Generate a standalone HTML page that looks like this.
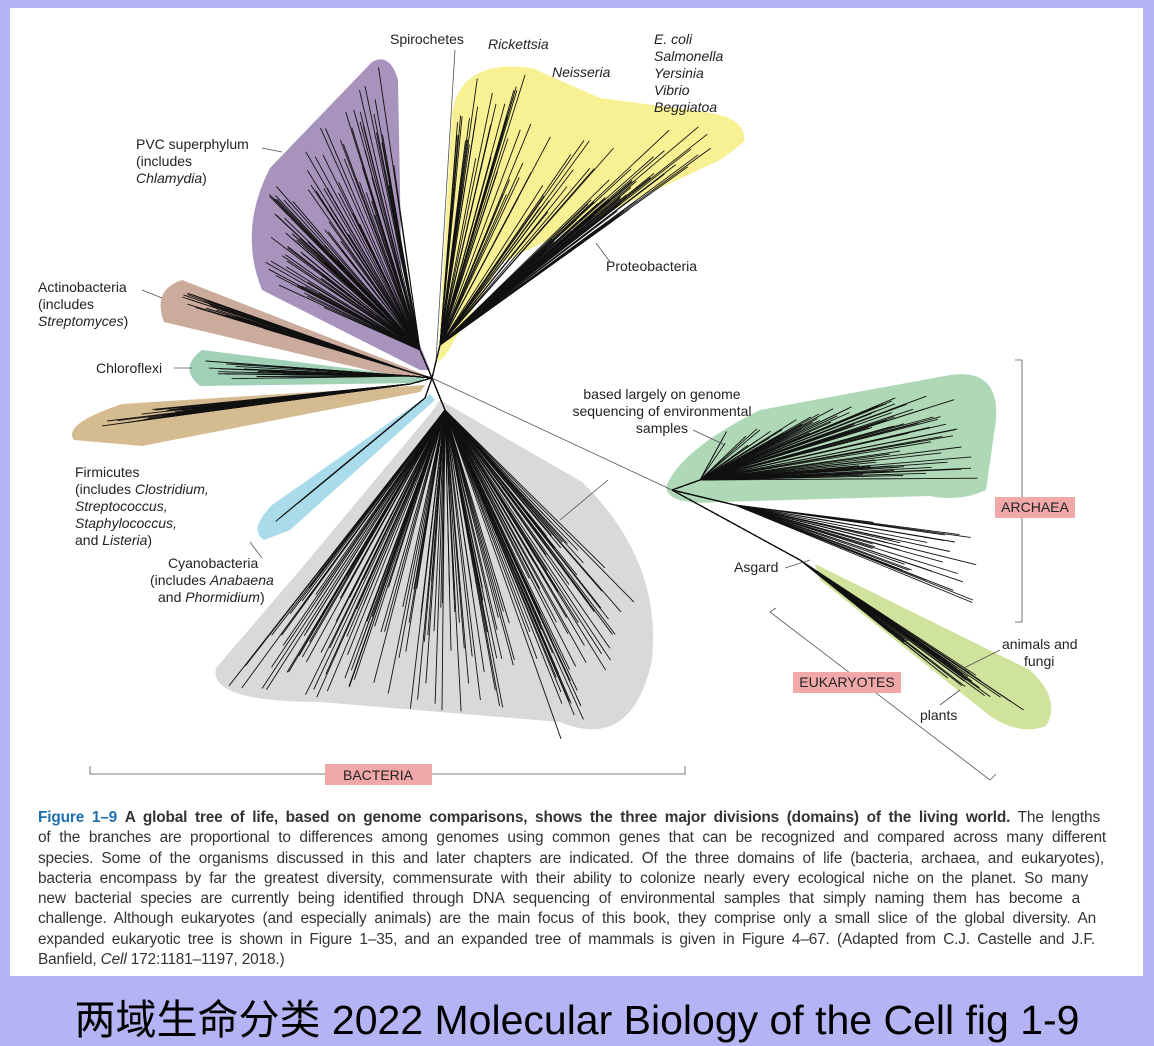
<!DOCTYPE html>
<html><head><meta charset="utf-8"><style>
html,body{margin:0;padding:0}
body{width:1154px;height:1046px;background:#b4b4f4;position:relative;overflow:hidden;font-family:"Liberation Sans",sans-serif}
#panel{position:absolute;left:10px;top:8px;width:1133px;height:968px;background:#fff}
svg{position:absolute;left:0;top:0}
.l{font-family:"Liberation Sans",sans-serif;font-size:14px;fill:#222}
.cap{position:absolute;left:38px;top:808px;font-size:15.4px;line-height:20.3px;color:#333;letter-spacing:-0.15px}
.cap div{text-align:justify;text-align-last:justify;white-space:nowrap}
.cap b.f{color:#1f6fb0}
.title{position:absolute;left:0;width:1154px;top:986px;text-align:center;font-size:41px;color:#000;font-family:"Liberation Sans","Noto Sans CJK SC",sans-serif}
</style></head><body>
<div id="panel"></div>
<svg width="1154" height="1046" id="s">
<g stroke="none">
<path d="M430,370 L402,300 L398,80 Q390,52 372,62 L270,168 Q238,230 262,290 L420,370 Z" fill="#a893bc"/>
<path d="M438,362 L452,112 Q462,58 532,68 L600,98 L705,112 Q748,118 744,142 L720,160 L502,262 L445,356 Z" fill="#f8f193"/>
<path d="M425,375 L182,280 Q152,290 164,322 L410,380 Z" fill="#cbab9b"/>
<path d="M425,378 L202,350 Q178,368 200,386 L420,383 Z" fill="#a0d1b7"/>
<path d="M425,385 L122,404 Q62,424 74,440 L142,446 L420,392 Z" fill="#d5bb90"/>
<path d="M430,394 L272,505 Q248,530 264,540 L290,530 L435,400 Z" fill="#aadbea"/>
<path d="M440,400 L582,482 Q662,560 652,660 Q632,752 560,722 L320,702 Q208,702 216,668 L300,570 L430,414 Z" fill="#d9d9d9"/>
<path d="M666,487 Q680,450 760,410 L950,375 Q1000,368 996,420 L986,490 Q960,502 930,496 L720,502 Q668,506 666,487 Z" fill="#afd8b6"/>
<path d="M815,564 L1030,670 Q1062,700 1046,726 Q1020,736 990,716 L820,580 Z" fill="#d0e39d"/>
</g>
<g id="br" stroke="#111" stroke-width="0.9" fill="none"></g>
<g stroke="#555" stroke-width="0.8" fill="none">
<line x1="432" y1="378" x2="672" y2="490"/>
<path d="M1015,360 H1022 V622 H1015"/>
<path d="M90,766 V774 H685 V766"/>
<path d="M776,608 L770,612 L990,780 L996,774"/>
<line x1="455" y1="50" x2="436" y2="360"/>
<line x1="262" y1="148" x2="282" y2="152"/>
<line x1="142" y1="290" x2="162" y2="298"/>
<line x1="174" y1="368" x2="192" y2="368"/>
<line x1="596" y1="243" x2="610" y2="262"/>
<line x1="693" y1="430" x2="725" y2="445"/>
<line x1="608" y1="480" x2="560" y2="520"/>
<line x1="785" y1="568" x2="810" y2="560"/>
<line x1="250" y1="542" x2="262" y2="558"/>
<line x1="1000" y1="650" x2="960" y2="670"/>
<line x1="940" y1="705" x2="960" y2="690"/>
</g>
<rect x="325" y="764" width="107" height="21" fill="#f0a8a8"/>
<rect x="995" y="497" width="80" height="21" fill="#f0a8a8"/>
<rect x="793" y="672" width="108" height="21" fill="#f0a8a8"/>
<text class="l" x="378" y="780" text-anchor="middle">BACTERIA</text>
<text class="l" x="1035" y="512" text-anchor="middle">ARCHAEA</text>
<text class="l" x="847" y="687" text-anchor="middle">EUKARYOTES</text>
<text class="l" x="390" y="44">Spirochetes</text>
<text class="l" x="488" y="49" font-style="italic">Rickettsia</text>
<text class="l" x="552" y="77" font-style="italic">Neisseria</text>
<g class="l" font-style="italic"><text x="654" y="44">E. coli</text><text x="654" y="61">Salmonella</text><text x="654" y="78">Yersinia</text><text x="654" y="95">Vibrio</text><text x="654" y="112">Beggiatoa</text></g>
<text class="l" x="136" y="149">PVC superphylum</text><text class="l" x="136" y="166">(includes</text><text class="l" x="136" y="183" font-style="italic">Chlamydia<tspan font-style="normal">)</tspan></text>
<text class="l" x="606" y="271">Proteobacteria</text>
<text class="l" x="38" y="292">Actinobacteria</text><text class="l" x="38" y="309">(includes</text><text class="l" x="38" y="326" font-style="italic">Streptomyces<tspan font-style="normal">)</tspan></text>
<text class="l" x="96" y="373">Chloroflexi</text>
<text class="l" x="75" y="477">Firmicutes</text>
<text class="l" x="75" y="494">(includes <tspan font-style="italic">Clostridium,</tspan></text>
<text class="l" x="75" y="511" font-style="italic">Streptococcus,</text>
<text class="l" x="75" y="528" font-style="italic">Staphylococcus,</text>
<text class="l" x="75" y="545">and <tspan font-style="italic">Listeria</tspan>)</text>
<text class="l" x="168" y="568">Cyanobacteria</text>
<text class="l" x="150" y="585">(includes <tspan font-style="italic">Anabaena</tspan></text>
<text class="l" x="158" y="602">and <tspan font-style="italic">Phormidium</tspan>)</text>
<text class="l" x="662" y="399" text-anchor="middle">based largely on genome</text>
<text class="l" x="662" y="416" text-anchor="middle">sequencing of environmental</text>
<text class="l" x="662" y="433" text-anchor="middle">samples</text>
<text class="l" x="734" y="572">Asgard</text>
<text class="l" x="1002" y="649">animals and</text><text class="l" x="1024" y="666">fungi</text>
<text class="l" x="920" y="720">plants</text>
</svg>
<div class="cap">
<div style="width:1062px"><b class="f">Figure 1–9</b> <b>A global tree of life, based on genome comparisons, shows the three major divisions (domains) of the living world.</b> The lengths</div>
<div style="width:1068px">of the branches are proportional to differences among genomes using common genes that can be recognized and compared across many different</div>
<div style="width:1066px">species. Some of the organisms discussed in this and later chapters are indicated. Of the three domains of life (bacteria, archaea, and eukaryotes),</div>
<div style="width:1050px">bacteria encompass by far the greatest diversity, commensurate with their ability to colonize nearly every ecological niche on the planet. So many</div>
<div style="width:1042px">new bacterial species are currently being identified through DNA sequencing of environmental samples that simply naming them has become a</div>
<div style="width:1058px">challenge. Although eukaryotes (and especially animals) are the main focus of this book, they comprise only a small slice of the global diversity. An</div>
<div style="width:1057px">expanded eukaryotic tree is shown in Figure 1–35, and an expanded tree of mammals is given in Figure 4–67. (Adapted from C.J. Castelle and J.F.</div>
<div style="text-align-last:left">Banfield, <i>Cell</i> 172:1181–1197, 2018.)</div>
</div>
<div class="title">两域生命分类 2022 Molecular Biology of the Cell fig 1-9</div>
<script>
var g=document.getElementById('br'),seed=7;
function r(){seed=(seed*16807)%2147483647;return seed/2147483647;}
function fan(cx,cy,bx,by,tips,n){
 for(var i=0;i<n;i++){var t=tips[Math.floor(r()*tips.length)];
  var k=r(),px=t[0]+(t[2]-t[0])*k,py=t[1]+(t[3]-t[1])*k;
  var f=0.55+0.45*r();px=bx+(px-bx)*f;py=by+(py-by)*f;
  var l=document.createElementNS('http://www.w3.org/2000/svg','path');
  var hx=bx+(px-bx)*0.3,hy=by+(py-by)*0.3;
  l.setAttribute('d','M'+cx+','+cy+' L'+bx+','+by+' L'+hx+','+hy+' L'+px.toFixed(1)+','+py.toFixed(1));g.appendChild(l);}
}
var C=[432,378];
fan(C[0],C[1],420,350,[[270,180,380,65],[262,280,270,180]],110);
fan(C[0],C[1],440,345,[[460,70,530,75],[530,75,735,135],[735,135,600,190]],120);
fan(C[0],C[1],410,372,[[168,300,180,290]],35);
fan(C[0],C[1],410,376,[[200,360,200,380]],30);
fan(C[0],C[1],410,384,[[75,430,140,410]],35);
fan(C[0],C[1],425,398,[[265,530,290,510]],22);
fan(C[0],C[1],445,410,[[225,690,350,700],[350,700,575,745],[575,745,640,600]],170);
fan(672,490,700,480,[[720,430,950,385],[950,385,980,480]],90);
fan(672,490,735,505,[[980,520,985,610]],30);
fan(672,490,800,560,[[1000,700,1045,720],[960,690,1000,700]],40);
</script>
</body></html>
